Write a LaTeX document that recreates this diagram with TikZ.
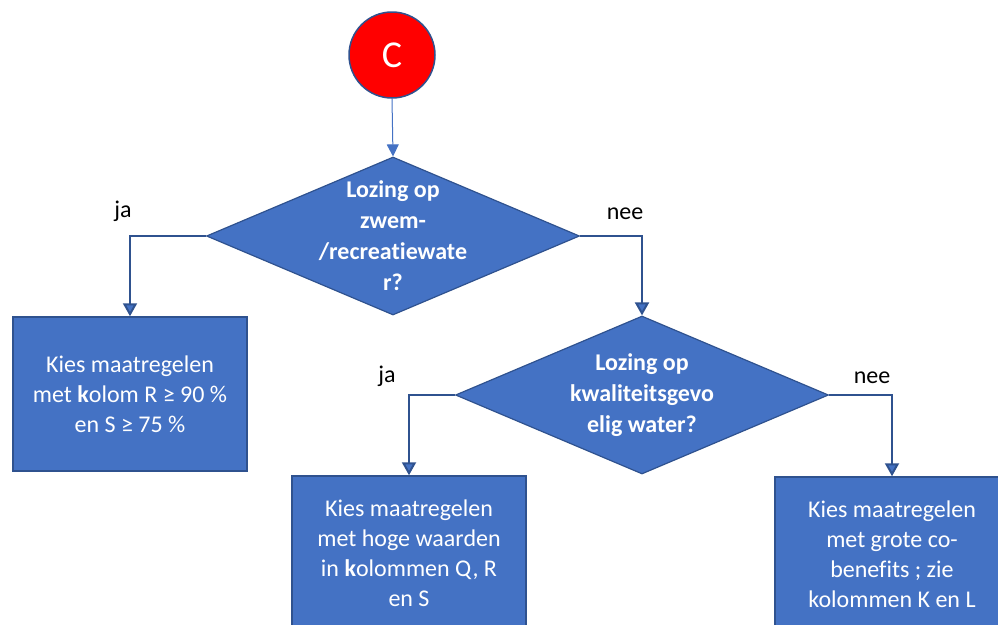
\documentclass[tikz,border=0pt]{standalone}
\usepackage{fontspec}
\setmainfont{Carlito}[Ligatures=NoCommon]
\usepackage{tikz}
\usetikzlibrary{shapes.geometric, arrows.meta}
\definecolor{fillblue}{RGB}{68, 114, 196}
\definecolor{lineblue}{RGB}{47, 82, 143}
\definecolor{startred}{RGB}{255, 0, 0}

\begin{document}
\begin{tikzpicture}[x=1pt, y=-1pt, thick,
    every node/.style={font=\fontsize{24}{30}\selectfont},
    startnode/.style={circle, draw=lineblue, line width=1.5pt, fill=startred, minimum size=86pt, text=white, font=\fontsize{38}{44}\selectfont},
    question/.style={diamond, draw=lineblue, line width=1.2pt, fill=fillblue, minimum width=373pt, minimum height=158pt, inner sep=0pt},
    qtext/.style={text=white, align=center, font=\bfseries\fontsize{24}{31}\selectfont},
    action/.style={rectangle, draw=lineblue, line width=1.5pt, fill=fillblue, minimum width=234pt, minimum height=154pt, text=white, align=center},
    flow/.style={draw=lineblue, line width=2pt, -{Triangle[width=14pt, length=13pt, fill=fillblue]}},
    answer/.style={text=black}]
  \useasboundingbox (0, 0) rectangle (998, 624);
  \clip (0, 0) rectangle (998, 624);
  \node[startnode] (start) at (392, 55) {C};
  \node[question, label={[qtext]center:{Lozing op\\zwem-\\/recreatiewate\\r?}}] (q1) at (393, 236) {};
  \node[question, label={[qtext]center:{Lozing op\\kwaliteitsgevo\\elig water?}}] (q2) at (642, 395) {};
  \node[action] (a1) at (130, 394) {Kies maatregelen\\met \textbf{k}olom R ≥ 90 \%\\en S ≥ 75 \%};
  \node[action] (a2) at (409, 553) {Kies maatregelen\\met hoge waarden\\in \textbf{k}olommen Q, R\\en S};
  \node[action] (a3) at (892, 554) {Kies maatregelen\\met grote co-\\benefits ; zie\\kolommen K en L};
  \draw[draw=fillblue, line width=1pt, -{Triangle[width=12pt, length=12pt, fill=fillblue]}] (start.south) -- (q1.north);
  \draw[flow] (q1.west) -| (a1.north);
  \draw[flow] (q1.east) -| (q2.north);
  \draw[flow] (q2.west) -| (a2.north);
  \draw[flow] (q2.east) -| (a3.north);
  \node[answer] (ja1) at (123, 211) {ja};
  \node[answer] (nee1) at (625, 214) {nee};
  \node[answer] (ja2) at (387, 376) {ja};
  \node[answer] (nee2) at (872, 378) {nee};
\end{tikzpicture}
\end{document}
